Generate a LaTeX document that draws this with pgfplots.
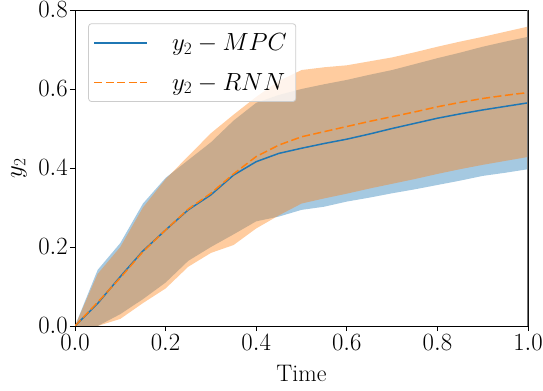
\documentclass[border=0pt]{standalone}
\usepackage{fontspec}
\usepackage{pgfplots}
\pgfplotsset{compat=1.18}
\usepgfplotslibrary{fillbetween}
\definecolor{tabblue}{HTML}{1F77B4}
\definecolor{taborange}{HTML}{FF7F0E}
\newcommand{\bigf}{\fontsize{24}{29}\selectfont}
\pgfplotsset{
  legend image code/.code={\draw[#1] plot coordinates {(0bp,0bp) (53bp,0bp)};},
}
\pgfplotstableread{
x mu ml ru rl
0.00 0 0 0 0
0.05 0.142 0 0.132 0
0.10 0.21 0.03 0.20 0.018
0.15 0.31 0.068 0.30 0.058
0.20 0.375 0.11 0.372 0.095
0.25 0.42 0.165 0.43 0.15
0.30 0.465 0.20 0.488 0.185
0.35 0.52 0.232 0.535 0.205
0.40 0.565 0.265 0.58 0.247
0.45 0.585 0.277 0.62 0.28
0.50 0.60 0.294 0.648 0.31
0.55 0.612 0.302 0.655 0.323
0.60 0.623 0.315 0.66 0.335
0.65 0.636 0.325 0.67 0.348
0.70 0.648 0.336 0.68 0.36
0.75 0.663 0.346 0.693 0.372
0.80 0.678 0.357 0.707 0.385
0.85 0.692 0.368 0.72 0.397
0.90 0.707 0.38 0.732 0.408
0.95 0.72 0.388 0.745 0.418
1.00 0.732 0.397 0.758 0.428
}\bands
\begin{document}
\begin{tikzpicture}[font=\bigf]
\begin{axis}[
  at={(0,0)}, anchor=south west,
  scale only axis, width=453bp, height=316bp,
  xmin=0, xmax=1, ymin=0, ymax=0.8,
  xtick={0,0.2,...,1.0}, ytick={0,0.2,...,0.8},
  xtick pos=bottom, ytick pos=left,
  xticklabel style={font=\bigf, inner sep=3bp, /pgf/number format/.cd,fixed,fixed zerofill,precision=1},
  yticklabel style={font=\bigf, inner sep=2bp, /pgf/number format/.cd,fixed,fixed zerofill,precision=1},
  tick align=outside, major tick length=5bp, tick style={black, line width=0.8bp},
  axis line style={line width=0.8bp},
  xlabel={Time}, ylabel={$y_2$},
  xlabel style={font=\bigf, at={(axis description cs:0.5,-0.149)}, anchor=center},
  ylabel style={font=\bigf, at={(axis description cs:-0.124,0.5)}, anchor=center},
  legend style={at={(0.029,0.958)}, anchor=north west, draw=black!20, rounded corners=3bp, fill=white, fill opacity=0.8, text opacity=1, draw opacity=1, line width=0.8bp, inner xsep=5bp, inner ysep=6bp, nodes={inner sep=4bp}, row sep=13bp, column sep=20bp, font=\bigf},
  legend cell align=left,
]
\addplot[draw=none, name path=mu, forget plot] table[x=x,y=mu] {\bands};
\addplot[draw=none, name path=ml, forget plot] table[x=x,y=ml] {\bands};
\addplot[fill=tabblue, fill opacity=0.4, draw=none, forget plot] fill between[of=mu and ml];
\addplot[draw=none, name path=ru, forget plot] table[x=x,y=ru] {\bands};
\addplot[draw=none, name path=rl, forget plot] table[x=x,y=rl] {\bands};
\addplot[fill=taborange, fill opacity=0.4, draw=none, forget plot] fill between[of=ru and rl];
\addplot[tabblue, line width=1.5bp, forget plot] table {
0.00 0
0.05 0.057
0.10 0.125
0.15 0.19
0.20 0.243
0.25 0.294
0.30 0.332
0.35 0.382
0.40 0.416
0.45 0.437
0.50 0.45
0.55 0.462
0.60 0.473
0.65 0.486
0.70 0.50
0.75 0.513
0.80 0.526
0.85 0.537
0.90 0.547
0.95 0.556
1.00 0.565
};
\addplot[taborange, line width=1.5bp, dash pattern=on 8bp off 3.5bp, forget plot] table {
0.00 0
0.05 0.06
0.10 0.122
0.15 0.188
0.20 0.243
0.25 0.296
0.30 0.336
0.35 0.385
0.40 0.429
0.45 0.458
0.50 0.479
0.55 0.492
0.60 0.505
0.65 0.518
0.70 0.53
0.75 0.542
0.80 0.555
0.85 0.566
0.90 0.576
0.95 0.584
1.00 0.591
};
\addlegendimage{tabblue, line width=1.5bp}
\addlegendentry{$y_2 - MPC$}
\addlegendimage{taborange, line width=1.5bp, dash pattern=on 8bp off 3.5bp}
\addlegendentry{$y_2 - RNN$}
\draw[black!55, line width=1.3bp] (rel axis cs:1,0) -- (rel axis cs:1,1);
\end{axis}
\pgfresetboundingbox
\path[use as bounding box] (-75bp,-65bp) rectangle (468bp,326bp);
\end{tikzpicture}
\end{document}
